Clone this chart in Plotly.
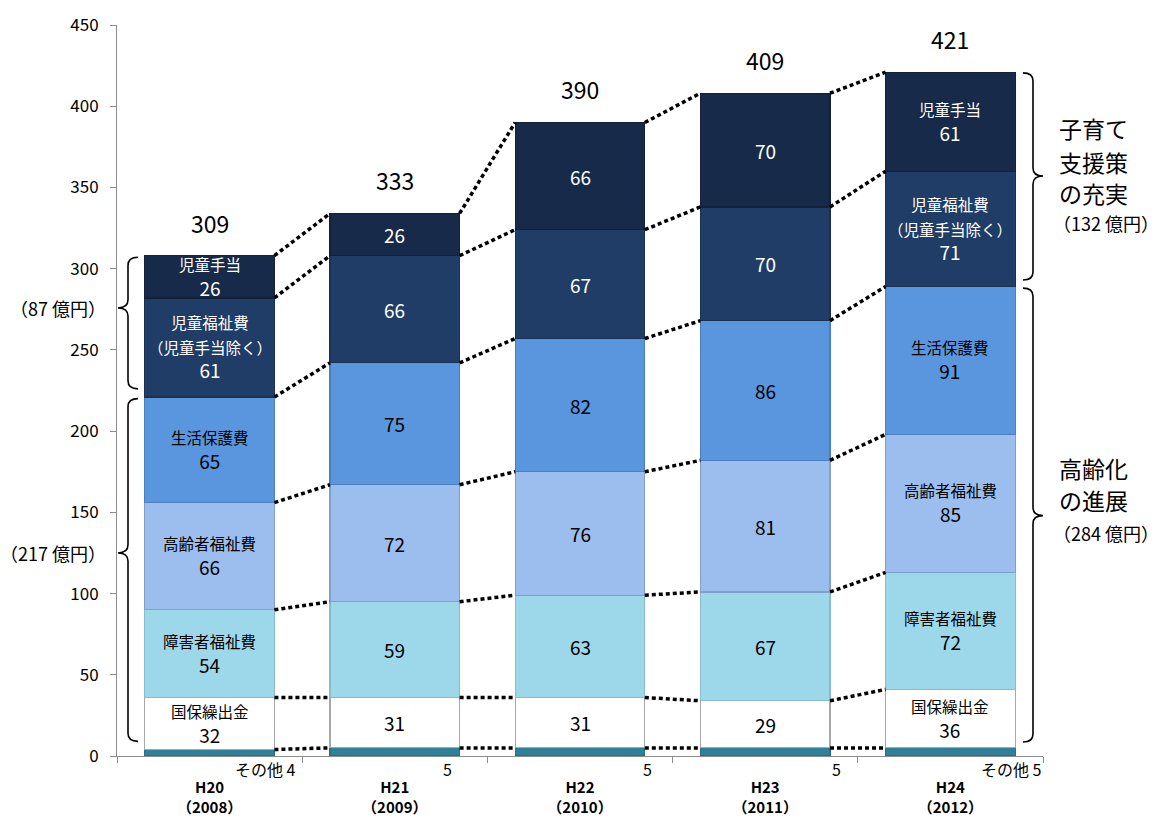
import plotly.graph_objects as go

categories = ["H20", "H21", "H22", "H23", "H24"]
years = ["2008", "2009", "2010", "2011", "2012"]
series_names = ["その他", "国保繰出金", "障害者福祉費", "高齢者福祉費", "生活保護費", "児童福祉費", "児童手当"]
name_labels = ["その他", "国保繰出金", "障害者福祉費", "高齢者福祉費", "生活保護費", "児童福祉費<br>（児童手当除く）", "児童手当"]
sonota = [4, 5, 5, 5, 5]
kokuho = [32, 31, 31, 29, 36]
shogai = [54, 59, 63, 67, 72]
koreisha = [66, 72, 76, 81, 85]
seikatsu = [65, 75, 82, 86, 91]
jido_fukushi = [61, 66, 67, 70, 71]
jido_teate = [26, 26, 66, 70, 61]
totals = [309, 333, 390, 409, 421]
values = [sonota, kokuho, shogai, koreisha, seikatsu, jido_fukushi, jido_teate]
child_lines = ["子育て", "支援策", "の充実"]
aging_lines = ["高齢化", "の進展"]

colors = ["#2E8199", "#FFFFFF", "#9DD8EA", "#9BBEEE", "#5A96DE", "#1F3D66", "#172A49"]
line_colors = ["#2A6F82", "#A8A8A8", "#86BCCB", "#829FC8", "#4B7EBD", "#1A3252", "#132238"]
text_colors = ["#000", "#000", "#000", "#000", "#000", "#FFF", "#FFF"]

FONT = "Noto Sans CJK JP"
BW = 0.7
xs = list(range(len(categories)))
X0, X1 = -0.5, len(xs) - 0.5


def xpaper(v):
    return (v - X0) / (X1 - X0)


fig = go.Figure()
for s, vals in enumerate(values):
    fig.add_trace(go.Bar(
        x=xs, y=vals, width=BW, name=series_names[s],
        marker=dict(color=colors[s], line=dict(color=line_colors[s], width=1.2)),
        hoverinfo="skip", showlegend=False))

cum = []
run = [0] * len(xs)
for vals in values:
    base = run[:]
    run = [a + b for a, b in zip(run, vals)]
    cum.append((base, run[:]))

for s in range(len(values)):
    lx, ly = [], []
    tops = cum[s][1]
    for i in range(len(xs) - 1):
        lx += [xs[i] + BW / 2, xs[i + 1] - BW / 2, None]
        ly += [tops[i], tops[i + 1], None]
    fig.add_trace(go.Scatter(x=lx, y=ly, mode="lines",
                             line=dict(color="black", width=3.5, dash="4px,3px"),
                             hoverinfo="skip", showlegend=False))

ann = []
for s in range(1, len(values)):
    for i in xs:
        base, top = cum[s][0][i], cum[s][1][i]
        mid = (base + top) / 2
        v = values[s][i]
        if i in (0, len(xs) - 1):
            txt = f"<span style='font-size:15.5px'>{name_labels[s]}</span><br>{v}"
        else:
            txt = f"{v}"
        ann.append(dict(x=i, y=mid, text=txt, showarrow=False, xref="x", yref="y",
                        font=dict(family=FONT, size=19, color=text_colors[s]),
                        align="center"))
for i in xs:
    ann.append(dict(x=i, y=cum[-1][1][i], text=str(totals[i]), showarrow=False,
                    xref="x", yref="y", yshift=33,
                    font=dict(family=FONT, size=23, color="#000")))

other_pos = [(0.48, "right"), (0.284, "center"), (0.365, "center"), (0.386, "center"), (0.503, "right")]
for i in xs:
    dx, anchor = other_pos[i]
    txt = f"その他 {sonota[i]}" if i in (0, len(xs) - 1) else f"{sonota[i]}"
    ann.append(dict(x=xpaper(i + dx), xref="paper", y=0, yref="y", yshift=-13, text=txt,
                    showarrow=False, xanchor=anchor, yanchor="middle",
                    font=dict(family=FONT, size=16, color="#000")))


def brace(xv, y1, y2, ytip, d, rx=0.054, ry=5):
    hx = xv - d * rx
    tx = xv + d * rx
    return (f"M {hx},{y2} Q {xv},{y2} {xv},{y2 - ry} L {xv},{ytip + ry} "
            f"Q {xv},{ytip} {tx},{ytip} Q {xv},{ytip} {xv},{ytip - ry} "
            f"L {xv},{y1 + ry} Q {xv},{y1} {hx},{y1}")


shapes = []
child_base = cum[5][0]
left_x = -0.4406
right_x = 4.446
bl = dict(color="black", width=1.6)
shapes.append(dict(type="path", xref="x", yref="y", line=bl,
                   path=brace(left_x, child_base[0] + 5, totals[0] - 2, 275.8, -1)))
shapes.append(dict(type="path", xref="x", yref="y", line=bl,
                   path=brace(left_x, sonota[0] + 5, child_base[0] - 1, 125, -1)))
shapes.append(dict(type="path", xref="x", yref="y", line=bl,
                   path=brace(right_x, child_base[4] + 4, totals[4] - 0.5, 357, 1)))
shapes.append(dict(type="path", xref="x", yref="y", line=bl,
                   path=brace(right_x, sonota[4] + 3.6, child_base[4] - 1, 148, 1)))

left_lab_x = xpaper(-0.5486)
right_lab_x = xpaper(4.575)
ann.append(dict(x=left_lab_x, xref="paper", y=275.8, yref="y", text="（87 億円）", showarrow=False,
                xanchor="right", font=dict(family=FONT, size=18, color="#000")))
ann.append(dict(x=left_lab_x, xref="paper", y=125, yref="y", text="（217 億円）", showarrow=False,
                xanchor="right", font=dict(family=FONT, size=18, color="#000")))
for k, yv in enumerate([386.6, 365.7, 346.6]):
    ann.append(dict(x=right_lab_x, xref="paper", y=yv, yref="y", text=child_lines[k],
                    showarrow=False, xanchor="left",
                    font=dict(family=FONT, size=23, color="#000")))
ann.append(dict(x=right_lab_x - 0.006, xref="paper", y=328.1, yref="y", text="（132 億円）",
                showarrow=False, xanchor="left", font=dict(family=FONT, size=18, color="#000")))
for k, yv in enumerate([177.3, 157.6]):
    ann.append(dict(x=right_lab_x, xref="paper", y=yv, yref="y", text=aging_lines[k],
                    showarrow=False, xanchor="left",
                    font=dict(family=FONT, size=23, color="#000")))
ann.append(dict(x=right_lab_x - 0.006, xref="paper", y=137.3, yref="y", text="（284 億円）",
                showarrow=False, xanchor="left", font=dict(family=FONT, size=18, color="#000")))

fig.update_layout(
    width=1158, height=818,
    margin=dict(l=117, r=115, t=25, b=62),
    plot_bgcolor="white", paper_bgcolor="white",
    barmode="stack", bargap=0.3,
    font=dict(family=FONT, color="#000"),
    annotations=ann, shapes=shapes,
    xaxis=dict(range=[X0, X1], tickvals=xs, automargin=False,
               ticktext=[f"<b>{c}</b><br><b>（{y}）</b>" for c, y in zip(categories, years)],
               showline=True, linecolor="#8C8C8C", linewidth=1, ticks="", showgrid=False,
               zeroline=False, ticklabelstandoff=18,
               tickfont=dict(family=FONT, size=15, color="#000"),
               minor=dict(tickvals=[i - 0.5 for i in range(len(xs) + 1)], ticks="outside",
                          ticklen=6, tickcolor="#8C8C8C", showgrid=False)),
    yaxis=dict(range=[0, 450], tickvals=list(range(0, 451, 50)), showline=True, automargin=False,
               linecolor="#8C8C8C", linewidth=1, ticks="outside", ticklen=6,
               tickcolor="#8C8C8C", showgrid=False, zeroline=False, ticklabelstandoff=8,
               tickfont=dict(family=FONT, size=17, color="#000")),
)

fig.write_html("out.html")
